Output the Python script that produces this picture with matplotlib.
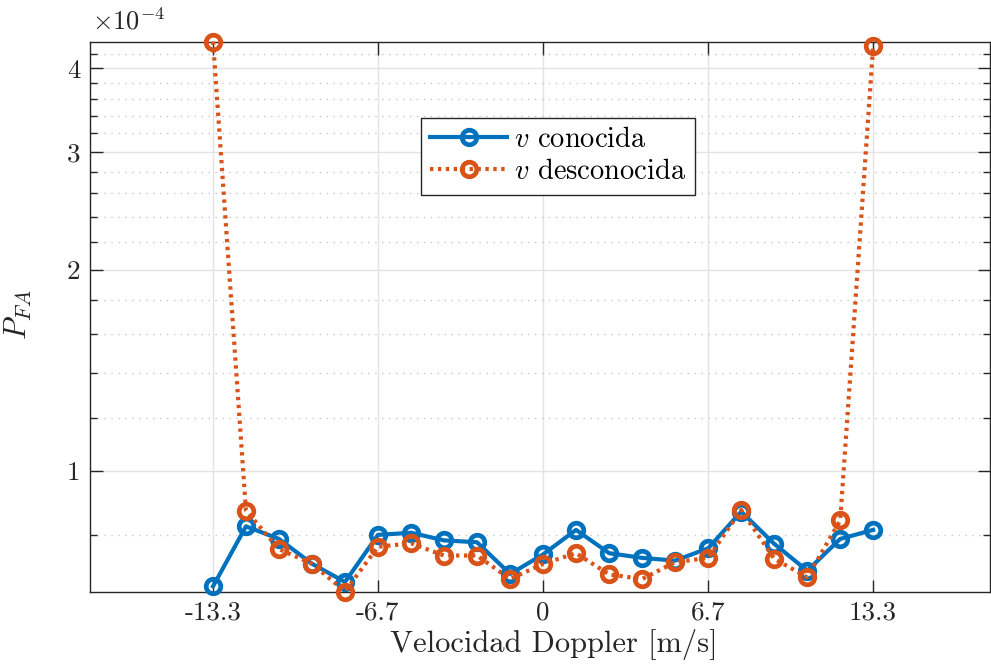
import numpy as np
import matplotlib
matplotlib.use("Agg")
import matplotlib.pyplot as plt
from matplotlib.ticker import FixedLocator, NullFormatter

plt.rcParams['font.family'] = ['cmr10', 'DejaVu Serif']
plt.rcParams['mathtext.fontset'] = 'cm'
plt.rcParams['axes.formatter.use_mathtext'] = True
plt.rcParams['axes.unicode_minus'] = False

# Doppler velocity [m/s]
velocidad = [-13.33, -12.0, -10.67, -9.33, -8.0, -6.67, -5.33, -4.0, -2.67, -1.33,
             0.0, 1.33, 2.67, 4.0, 5.33, 6.67, 8.0, 9.33, 10.67, 12.0, 13.33]
# P_FA (x1e-4)
pfa_conocida = [0.671, 0.825, 0.790, 0.725, 0.681, 0.801, 0.807, 0.786, 0.781, 0.700,
                0.749, 0.815, 0.752, 0.740, 0.733, 0.765, 0.868, 0.777, 0.708, 0.790, 0.815]
pfa_desconocida = [4.39, 0.871, 0.763, 0.725, 0.659, 0.769, 0.778, 0.746, 0.746, 0.688,
                   0.725, 0.752, 0.699, 0.688, 0.729, 0.740, 0.873, 0.738, 0.692, 0.842, 4.315]

xtick_vals = [-13.33, -6.67, 0.0, 6.67, 13.33]
xtick_labels = ['-13.3', '-6.7', '0', '6.7', '13.3']
ytick_vals = [1, 2, 3, 4]
ytick_labels = ['1', '2', '3', '4']
yminor_vals = [0.8, 1.2, 1.4, 1.6, 1.8, 2.2, 2.4, 2.6, 2.8, 3.2, 3.4, 3.6, 3.8, 4.2]

series_labels = [r'$v$ conocida', r'$v$ desconocida']

blue = '#0072BD'
orange = '#D95319'
axcol = '#262626'

fig = plt.figure(figsize=(9.91, 6.66), dpi=100)
ax = fig.add_axes([90/991, 1-591.5/666, 900/991, 550/666])

ax.plot(velocidad, pfa_conocida, '-o', color=blue, lw=3.0, ms=10.5, mew=3.4,
        mfc='none', label=series_labels[0], zorder=3, clip_on=False)
ax.plot(velocidad, pfa_desconocida, 'o', ls=(0, (0.8, 1.1)), color=orange, lw=3.0,
        ms=10.5, mew=3.4, mfc='none', label=series_labels[1], zorder=3, clip_on=False)

ax.set_yscale('log')
allv = pfa_conocida + pfa_desconocida
ax.set_ylim(min(allv), max(allv))
ax.set_xlim(-18.3, 18.05)

ax.yaxis.set_major_locator(FixedLocator(ytick_vals))
ax.yaxis.set_minor_locator(FixedLocator(yminor_vals))
ax.set_yticks(ytick_vals)
ax.set_yticklabels(ytick_labels)
ax.yaxis.set_minor_formatter(NullFormatter())
ax.set_xticks(xtick_vals)
ax.set_xticklabels(xtick_labels)

ax.tick_params(which='both', direction='in', top=True, right=True, colors=axcol,
               labelsize=19.5, width=1.0)
ax.tick_params(which='major', length=9, pad=7)
ax.tick_params(which='minor', length=5)
ax.tick_params(axis='x', which='minor', bottom=False, top=False)

ax.grid(which='major', color='#e3e3e3', lw=1.0, ls='-', zorder=0)
ax.grid(which='minor', axis='y', color='#c8c8c8', lw=1.0, ls=(0, (1, 4)), zorder=0)
ax.set_axisbelow(True)

for s in ax.spines.values():
    s.set_color(axcol)
    s.set_linewidth(1.0)

ax.set_xlabel('Velocidad Doppler [m/s]', fontsize=22, color=axcol)
ax.xaxis.set_label_coords((554-90)/900, -0.068, transform=ax.transAxes)
ax.xaxis.label.set_va('top')
ax.set_ylabel(r'$P_{FA}$', fontsize=22, color=axcol)
ax.yaxis.set_label_coords(-0.062, (591.5-315)/550, transform=ax.transAxes)

ax.text(0.002, 1.012, r'$\times 10^{-4}$', transform=ax.transAxes, fontsize=19,
        color=axcol, ha='left', va='bottom')

leg = ax.legend(loc='upper left', bbox_to_anchor=((421-90)/900, (591.5-118)/550),
                borderaxespad=0, fontsize=20.5, frameon=True, fancybox=False,
                framealpha=1, edgecolor=axcol, handlelength=2.7, handletextpad=0.25,
                borderpad=0.32, labelspacing=0.2)
leg.get_frame().set_linewidth(1.0)

fig.savefig('out.png', dpi=100)
